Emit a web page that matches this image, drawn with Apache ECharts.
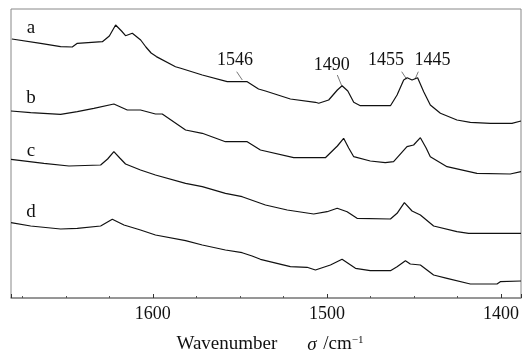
<!DOCTYPE html>
<html><head><meta charset="utf-8">
<script src="https://cdn.jsdelivr.net/npm/echarts@6/dist/echarts.min.js"></script>
<style>html,body{margin:0;padding:0;background:#fff}#c{width:522px;height:353px}</style>
</head><body><div id="c"></div>
<script>
// Wavenumber (cm^-1) / absorbance (a.u., offset) pairs
const seriesA = [[1681,2.59],[1664.5,2.547],[1653,2.513],[1646.3,2.51],[1643.4,2.547],[1629,2.563],[1625,2.62],[1621.4,2.73],[1618,2.67],[1615.7,2.623],[1611.8,2.647],[1607,2.58],[1604,2.51],[1601,2.45],[1598,2.414],[1587,2.313],[1584,2.297],[1571.6,2.23],[1557.3,2.163],[1545.8,2.163],[1539.3,2.09],[1535.3,2.07],[1521,1.99],[1506.6,1.957],[1504.7,1.947],[1499,1.98],[1494,2.08],[1491.3,2.123],[1488,2.07],[1484.6,1.957],[1480.8,1.923],[1463.5,1.923],[1459.7,2.03],[1455.9,2.18],[1453.9,2.203],[1451.1,2.18],[1447.9,2.203],[1444.4,2.063],[1440.6,1.93],[1434.8,1.847],[1425.3,1.78],[1417.6,1.757],[1406.1,1.747],[1393.7,1.747],[1388.5,1.77]];
const seriesB = [[1681.5,1.87],[1670.2,1.853],[1653,1.837],[1643.4,1.863],[1633.9,1.897],[1622.4,1.94],[1614.7,1.88],[1607.1,1.88],[1598.5,1.84],[1594.6,1.84],[1581.2,1.68],[1571.6,1.647],[1558.3,1.563],[1545.8,1.563],[1538.2,1.48],[1519.1,1.403],[1500.9,1.403],[1494,1.52],[1490.4,1.597],[1487.5,1.5],[1484.6,1.413],[1475.1,1.37],[1466.5,1.353],[1461.7,1.363],[1454,1.513],[1450.2,1.53],[1446.3,1.603],[1443,1.5],[1440.6,1.413],[1431,1.313],[1413.8,1.247],[1394.7,1.24],[1388.5,1.263]];
const seriesC = [[1681.5,1.387],[1662.6,1.347],[1648.2,1.32],[1630,1.33],[1626,1.39],[1622.4,1.463],[1619,1.4],[1615.7,1.34],[1607.1,1.28],[1598.5,1.23],[1581.2,1.147],[1571.6,1.113],[1558.3,1.047],[1548.7,1.013],[1535.3,0.93],[1522.8,0.88],[1507.6,0.84],[1499.9,0.863],[1494.1,0.897],[1488.4,0.863],[1482.7,0.797],[1463.5,0.79],[1459.7,0.847],[1455.5,0.953],[1451.1,0.87],[1446.3,0.83],[1438.7,0.72],[1425.3,0.663],[1418.6,0.647],[1388.5,0.647]];
const seriesD = [[1681.5,0.753],[1670.2,0.72],[1653,0.69],[1643.4,0.697],[1630,0.72],[1623.3,0.787],[1616.6,0.73],[1607.1,0.68],[1598.5,0.63],[1581.2,0.573],[1571.6,0.53],[1558.3,0.48],[1548.7,0.453],[1543,0.42],[1538.2,0.387],[1521,0.313],[1511.4,0.307],[1506.6,0.28],[1498,0.33],[1491.3,0.387],[1483.6,0.297],[1475.1,0.273],[1463.5,0.273],[1459.7,0.313],[1454.9,0.373],[1452.1,0.34],[1446.3,0.33],[1438.7,0.23],[1431,0.197],[1417.6,0.14],[1402.3,0.14],[1400.4,0.163],[1388.5,0.17]];
const curveNames = ['a','b','c','d'];
const peakLabels = ['1546','1490','1455','1445'];

const FONT = '"Liberation Serif","Times New Roman",serif';
const chart = echarts.init(document.getElementById('c'));
const mk = (name, data) => ({
  name, type: 'line', data, showSymbol: false, smooth: false,
  lineStyle: {color: '#111', width: 1.2}, animation: false
});
const txt = (t, x, y, size) => ({type: 'text', x, y, style: {text: t, font: size + 'px ' + FONT, fill: '#111', align: 'center', verticalAlign: 'middle'}});
const ln = (x1, y1, x2, y2) => ({type: 'line', shape: {x1, y1, x2, y2}, style: {stroke: '#555', lineWidth: 0.8}});
chart.setOption({
  backgroundColor: '#fff',
  animation: false,
  grid: {left: 11, right: 1, top: 9, bottom: 55, show: true, borderColor: '#888', borderWidth: 1, containLabel: false, outerBoundsMode: 'none'},
  xAxis: {
    type: 'value', inverse: true, min: 1388.5, max: 1681.5, minInterval: 100, maxInterval: 100,
    axisLine: {show: true, lineStyle: {color: '#888', width: 1.5}},
    axisTick: {show: true, inside: true, length: 4, lineStyle: {color: '#333'}},
    minorTick: {show: true, splitNumber: 4, length: 2, lineStyle: {color: '#555'}},
    splitLine: {show: false},
    axisLabel: {showMinLabel: false, showMaxLabel: false, margin: 7, color: '#111', fontFamily: FONT, fontSize: 18, formatter: v => String(v)},
    name: '{n|Wavenumber}         {s|σ}  {n|/cm}{p|−1}',
    nameLocation: 'middle', nameGap: 37,
    nameTextStyle: {padding: [0, 0, 0, 8], rich: {
      n: {fontFamily: FONT, fontSize: 19, color: '#111'},
      s: {fontFamily: FONT, fontSize: 19, fontStyle: 'italic', color: '#111'},
      p: {fontFamily: FONT, fontSize: 11, color: '#111', verticalAlign: 'top', padding: [0,0,8,0]}
    }}
  },
  yAxis: {type: 'value', min: 0, max: 2.89, show: false},
  series: [mk(curveNames[0], seriesA), mk(curveNames[1], seriesB), mk(curveNames[2], seriesC), mk(curveNames[3], seriesD)],
  graphic: [
    txt(curveNames[0], 31, 28, 19), txt(curveNames[1], 31, 98, 19), txt(curveNames[2], 31, 151, 19), txt(curveNames[3], 31, 212, 19),
    txt(peakLabels[0], 235, 60, 18), ln(236.7, 71.7, 242.3, 80),
    txt(peakLabels[1], 331.7, 65, 18), ln(337.3, 75, 341.7, 85.7),
    txt(peakLabels[2], 386, 60, 18), ln(401.7, 71.7, 406.7, 79.3),
    txt(peakLabels[3], 432.5, 60, 18), ln(418.3, 71.7, 415, 79.3)
  ]
});
</script></body></html>
